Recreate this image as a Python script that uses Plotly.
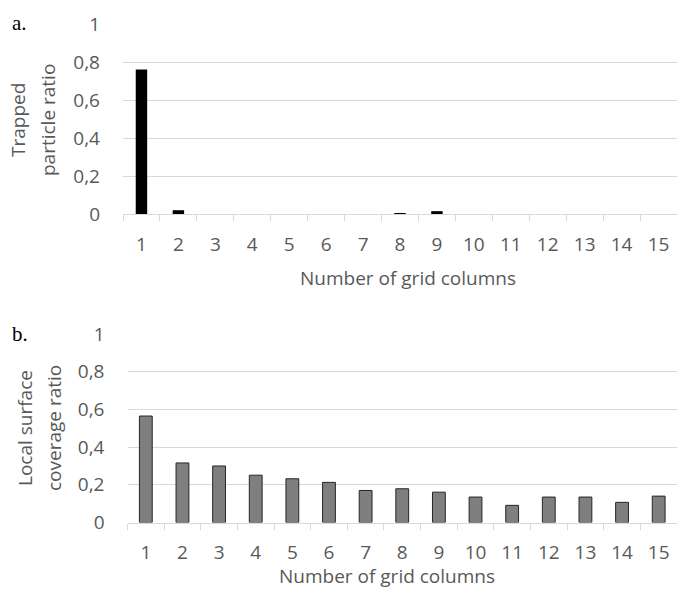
import plotly.graph_objects as go

# ---- data ----
categories = [str(i) for i in range(1, 16)]
trapped_ratio = [0.763, 0.02, 0, 0, 0, 0, 0, 0.005, 0.015, 0, 0, 0, 0, 0, 0]
coverage_ratio = [0.565, 0.316, 0.300, 0.251, 0.232, 0.213, 0.170, 0.179,
                  0.161, 0.135, 0.091, 0.135, 0.135, 0.107, 0.140]
y_tickvals = [0, 0.2, 0.4, 0.6, 0.8, 1]
y_ticktext = ["0", "0,2", "0,4", "0,6", "0,8", "1"]
x_title = "Number of grid columns"
y_title_a = ["Trapped", "particle ratio"]
y_title_b = ["Local surface", "coverage ratio"]
panel_labels = ["a.", "b."]

W, H = 677, 589
FONT = "Open Sans"
TXT = "#595959"
GRID = "#d9d9d9"

fig = go.Figure()
fig.add_trace(go.Bar(x=categories, y=trapped_ratio, xaxis="x", yaxis="y",
                     width=0.31, marker=dict(color="#000000", line=dict(width=0)),
                     showlegend=False))
fig.add_trace(go.Bar(x=categories, y=coverage_ratio, xaxis="x2", yaxis="y2",
                     width=0.35, marker=dict(color="#7f7f7f", line=dict(color="#262626", width=1)),
                     showlegend=False))

def xax(domain, anchor):
    return dict(domain=domain, anchor=anchor, type="category", range=[-0.5, 14.5],
                automargin=False,
                showgrid=False, showline=True, linecolor=GRID, linewidth=1,
                ticks="outside", tickson="boundaries", ticklen=6, tickcolor=GRID,
                tickfont=dict(family=FONT, size=19, color=TXT), ticklabelstandoff=13,
                fixedrange=True)

def yax(domain, anchor):
    return dict(domain=domain, anchor=anchor, range=[0, 1.003], tickvals=y_tickvals,
                automargin=False,
                ticktext=y_ticktext, showgrid=True, gridcolor=GRID, gridwidth=1,
                zeroline=False, showline=False, ticks="",
                tickfont=dict(family=FONT, size=19, color=TXT), ticklabelstandoff=22,
                fixedrange=True)

fig.update_layout(
    template="none",
    width=W, height=H, autosize=False,
    margin=dict(l=0, r=0, t=0, b=0, pad=0),
    paper_bgcolor="white", plot_bgcolor="white",
    xaxis=xax([123 / W, 1.0], "y"),
    yaxis=yax([1 - 214 / H, 1 - 24 / H], "x"),
    xaxis2=xax([127.5 / W, 1.0], "y2"),
    yaxis2=yax([1 - 522.5 / H, 1 - 333.5 / H], "x2"),
)

ann = []
def add_text(text, xpx, ypx, size=19, family=FONT, color=TXT, angle=0, xanchor="center"):
    ann.append(dict(text=text, x=xpx / W, y=1 - ypx / H, xref="paper", yref="paper",
                    showarrow=False, textangle=angle, xanchor=xanchor, yanchor="middle",
                    font=dict(family=family, size=size, color=color)))

add_text(y_title_a[0], 18, 120, angle=-90)
add_text(y_title_a[1], 48, 120, angle=-90)
add_text(y_title_b[0], 25, 428, angle=-90)
add_text(y_title_b[1], 54, 428, angle=-90)
add_text(x_title, 407.5, 278)
add_text(x_title, 387, 576)
add_text(panel_labels[0], 10, 23.5, size=21, family="Liberation Serif", color="#000000", xanchor="left")
add_text(panel_labels[1], 10, 333.5, size=21, family="Liberation Serif", color="#000000", xanchor="left")
fig.update_layout(annotations=ann)

fig.write_html("out.html", config={"displayModeBar": False},
               post_script="document.body.style.margin='0';document.body.style.overflow='hidden';")
